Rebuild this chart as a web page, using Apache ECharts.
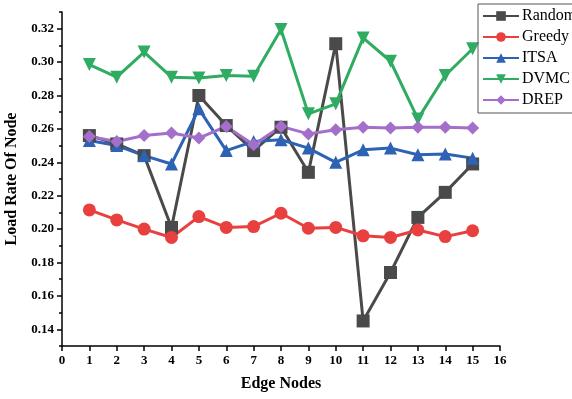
<!DOCTYPE html>
<html>
<head>
<meta charset="utf-8">
<script src="https://cdn.jsdelivr.net/npm/echarts@6/dist/echarts.min.js"></script>
<style>
    html, body { margin: 0; padding: 0; background: #fff; }
    #main { width: 572px; height: 399px; }
</style>
</head>
<body>
<div id="main"></div>
<script>
    // 数据
    var nodes = [1, 2, 3, 4, 5, 6, 7, 8, 9, 10, 11, 12, 13, 14, 15];
    var random = [0.256, 0.251, 0.244, 0.201, 0.280, 0.262, 0.247, 0.261, 0.234, 0.311, 0.145, 0.174, 0.207, 0.222, 0.239];
    var greedy = [0.2115, 0.2055, 0.200, 0.195, 0.2075, 0.201, 0.2015, 0.2095, 0.2005, 0.201, 0.196, 0.195, 0.1995, 0.1955, 0.199];
    var itsa = [0.253, 0.250, 0.244, 0.239, 0.272, 0.247, 0.2525, 0.2535, 0.2485, 0.240, 0.2475, 0.2485, 0.2445, 0.245, 0.2425];
    var dvmc = [0.2985, 0.291, 0.306, 0.291, 0.2905, 0.292, 0.2915, 0.3195, 0.269, 0.275, 0.3145, 0.3005, 0.266, 0.292, 0.308];
    var drep = [0.2555, 0.2525, 0.256, 0.2575, 0.2545, 0.2615, 0.2505, 0.2615, 0.257, 0.2595, 0.261, 0.2605, 0.261, 0.261, 0.2605];
    var yMajor = [0.14, 0.16, 0.18, 0.20, 0.22, 0.24, 0.26, 0.28, 0.30, 0.32];
    var yMinor = [0.13, 0.15, 0.17, 0.19, 0.21, 0.23, 0.25, 0.27, 0.29, 0.31, 0.33];

    var myChart = echarts.init(document.getElementById('main'));
    var font = '"Liberation Serif", "Times New Roman", serif';

    function pairs(arr) {
        return nodes.map(function (n, i) { return [n, arr[i]]; });
    }
    function line(name, data, color, symbol, rotate) {
        return {
            name: name,
            type: 'line',
            data: pairs(data),
            symbol: symbol,
            symbolSize: 13,
            symbolRotate: rotate || 0,
            lineStyle: { color: color, width: 3 },
            itemStyle: { color: color },
            emphasis: { disabled: true }
        };
    }

    var option = {
        animation: false,
        textStyle: { fontFamily: font },
        grid: { left: 62, right: 72, top: 12, bottom: 53, outerBoundsMode: 'none' },
        legend: {
            orient: 'vertical',
            left: 478,
            top: 4,
            padding: [4, 6, 5, 4],
            itemWidth: 36,
            itemHeight: 12,
            itemGap: 5,
            borderColor: '#555',
            borderWidth: 1,
            textStyle: { fontFamily: font, fontSize: 16, color: '#000', padding: [0, 0, 0, -2] },
            data: ['Random', 'Greedy', 'ITSA', 'DVMC', 'DREP']
        },
        xAxis: {
            type: 'value',
            min: 0,
            max: 16,
            interval: 1,
            name: 'Edge Nodes',
            nameLocation: 'middle',
            nameGap: 30,
            nameTextStyle: { fontFamily: font, fontWeight: 'bold', fontSize: 16, color: '#000' },
            axisLine: { onZero: false, lineStyle: { color: '#000', width: 1.5 } },
            axisTick: { length: 5, lineStyle: { color: '#000', width: 1.5 } },
            axisLabel: { fontFamily: font, fontWeight: 'bold', fontSize: 13, color: '#000', margin: 8 },
            splitLine: { show: false }
        },
        yAxis: [{
            type: 'value',
            min: 0.13,
            max: 0.33,
            name: 'Load Rate Of Node',
            nameLocation: 'middle',
            nameGap: 38,
            nameTextStyle: { fontFamily: font, fontWeight: 'bold', fontSize: 16, color: '#000' },
            axisLine: { show: true, lineStyle: { color: '#000', width: 1.5 } },
            axisTick: { show: true, length: 5, customValues: yMajor, lineStyle: { color: '#000', width: 1.5 } },
            axisLabel: {
                customValues: yMajor,
                fontFamily: font, fontWeight: 'bold', fontSize: 13, color: '#000', margin: 8,
                formatter: function (v) { return v.toFixed(2); }
            },
            splitLine: { show: false }
        }, {
            type: 'value',
            position: 'left',
            min: 0.13,
            max: 0.33,
            axisLine: { show: false },
            axisTick: { show: true, length: 3, customValues: yMinor, lineStyle: { color: '#000', width: 1.5 } },
            axisLabel: { show: false },
            splitLine: { show: false }
        }],
        series: [
            line('Random', random, '#4a4a4a', 'rect'),
            line('Greedy', greedy, '#e8403f', 'circle'),
            line('ITSA', itsa, '#2e62b4', 'triangle'),
            line('DVMC', dvmc, '#2fab62', 'triangle', 180),
            line('DREP', drep, '#a36fcb', 'diamond')
        ]
    };

    myChart.setOption(option);
</script>
</body>
</html>
